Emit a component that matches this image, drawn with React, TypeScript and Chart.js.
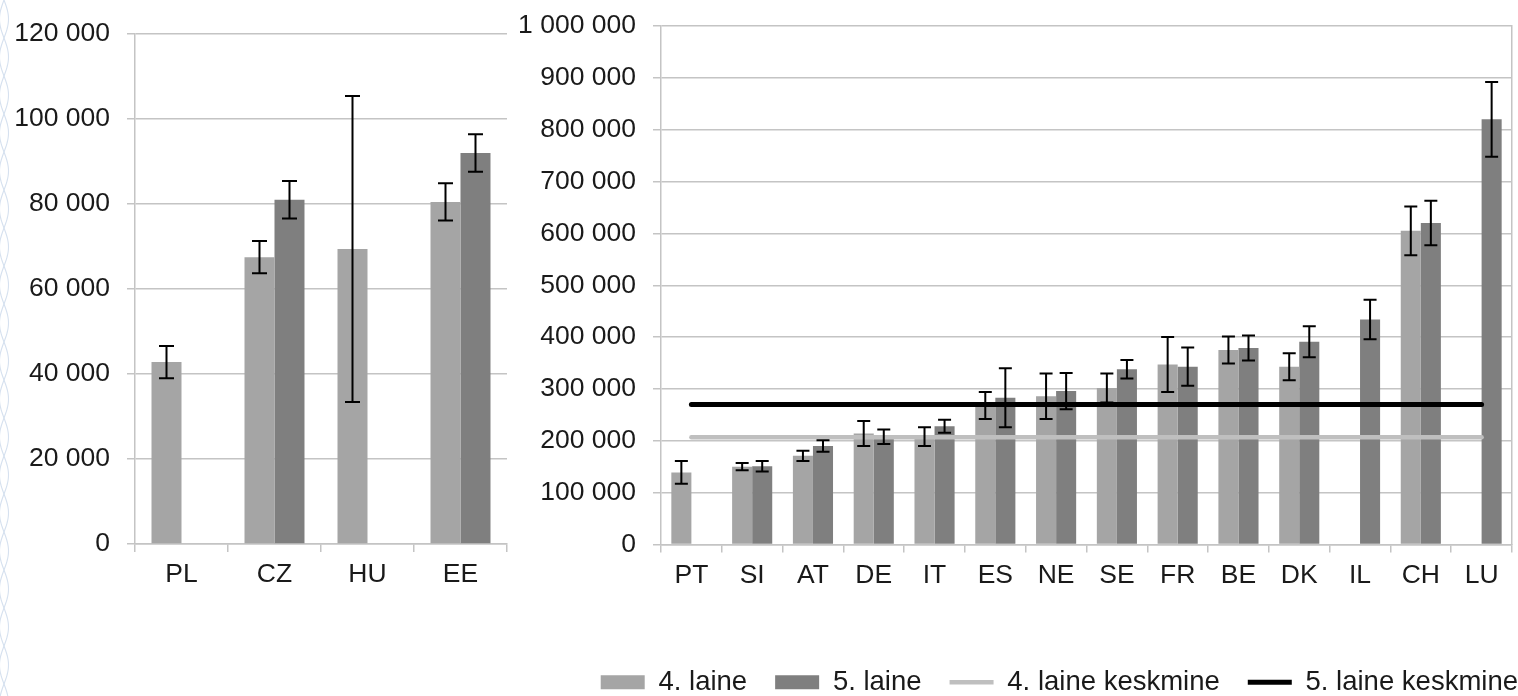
import React, { useEffect, useRef } from 'react';
import { Chart, registerables } from 'chart.js';

Chart.register(...registerables);

// ---------- data ----------
const leftCategories = ['PL', 'CZ', 'HU', 'EE'];
const leftWave4 = [42800, 67500, 69400, 80500];
const leftWave4Err = [3800, 3800, 36000, 4400];
const leftWave5 = [null, 81000, null, 92000];
const leftWave5Err = [null, 4400, null, 4400];

const rightCategories = ['PT', 'SI', 'AT', 'DE', 'IT', 'ES', 'NE', 'SE', 'FR', 'BE', 'DK', 'IL', 'CH', 'LU'];
const rightWave4 = [139000, 150000, 171000, 214000, 208000, 268000, 286000, 302000, 347000, 375000, 343000, null, 605000, null];
const rightWave4Err = [22000, 7000, 10000, 24000, 18000, 26000, 44000, 28000, 53000, 26000, 26000, null, 47000, null];
const rightWave5 = [null, 151000, 190000, 208000, 228000, 283000, 296000, 338000, 343000, 379000, 391000, 434000, 620000, 820000];
const rightWave5Err = [null, 10000, 11000, 14000, 12500, 57000, 35000, 18000, 37000, 24000, 30000, 38000, 43000, 72000];

const mean4 = 207000;
const mean5 = 270000;

const seriesLabels = ['4. laine', '5. laine', '4. laine keskmine', '5. laine keskmine'];

const leftTicks = { min: 0, max: 120000, step: 20000 };
const rightTicks = { min: 0, max: 1000000, step: 100000 };

// ---------- styles ----------
const COLOR4 = '#a5a5a5';
const COLOR5 = '#7f7f7f';
const MEAN4_COLOR = '#bfbfbf';
const MEAN5_COLOR = '#000000';
const GRID = '#c4c4c4';
const TEXT = '#1a1a1a';
const FONT = "'Liberation Sans', Arial, sans-serif";
const TICK_FONT = { family: FONT, size: 26.5 };

const fmt = (v: number) => String(Math.round(v)).replace(/\B(?=(\d{3})+(?!\d))/g, ' ');

function makeErrorPlugin(errs: (number | null)[][], cap: number) {
  return {
    id: 'errorBars',
    afterDatasetsDraw(chart: any) {
      const ctx = chart.ctx;
      const ys = chart.scales.y;
      ctx.save();
      ctx.strokeStyle = '#000000';
      ctx.lineWidth = 2;
      ctx.lineCap = 'butt';
      errs.forEach((arr, di) => {
        const meta = chart.getDatasetMeta(di);
        const data = chart.data.datasets[di].data as (number | null)[];
        arr.forEach((e, i) => {
          const v = data[i];
          if (e == null || v == null) return;
          const el = meta.data[i];
          if (!el) return;
          const x = el.x;
          const top = ys.getPixelForValue(v + e);
          const bot = ys.getPixelForValue(v - e);
          ctx.beginPath();
          ctx.moveTo(x, top);
          ctx.lineTo(x, bot);
          ctx.moveTo(x - cap / 2, top);
          ctx.lineTo(x + cap / 2, top);
          ctx.moveTo(x - cap / 2, bot);
          ctx.lineTo(x + cap / 2, bot);
          ctx.stroke();
        });
      });
      ctx.restore();
    },
  };
}

// faint decorative braid along the left edge of the slide
const braidPlugin = {
  id: 'braid',
  beforeDraw(chart: any) {
    const ctx = chart.ctx;
    const h = chart.height;
    ctx.save();
    ctx.strokeStyle = '#d6e1ef';
    ctx.lineWidth = 1.1;
    for (const sign of [1, -1]) {
      ctx.beginPath();
      for (let y = 0; y <= h; y += 2) {
        const x = 4 + sign * 4.5 * Math.sin((2 * Math.PI * y) / 76);
        if (y === 0) ctx.moveTo(x, y);
        else ctx.lineTo(x, y);
      }
      ctx.stroke();
    }
    ctx.restore();
  },
};

function LeftChart() {
  const ref = useRef<HTMLCanvasElement>(null);
  useEffect(() => {
    const chart = new Chart(ref.current!, {
      type: 'bar',
      data: {
        labels: leftCategories,
        datasets: [
          { label: seriesLabels[0], data: leftWave4, backgroundColor: COLOR4, borderWidth: 0, categoryPercentage: 0.645, barPercentage: 1 },
          { label: seriesLabels[1], data: leftWave5, backgroundColor: COLOR5, borderWidth: 0, categoryPercentage: 0.645, barPercentage: 1 },
        ] as any,
      },
      options: {
        responsive: false,
        animation: false,
        events: [],
        layout: { padding: { left: 0, right: 3, top: 34, bottom: 0 } },
        plugins: { legend: { display: false }, tooltip: { enabled: false } },
        scales: {
          x: {
            grid: { display: true, drawOnChartArea: false, drawTicks: true, tickLength: 8, color: GRID, lineWidth: 1.5 },
            border: { display: true, color: GRID, width: 1.5 },
            ticks: { color: TEXT, font: TICK_FONT, padding: 7 },
            afterFit: (s: any) => { s.height = 152; },
          },
          y: {
            min: leftTicks.min,
            max: leftTicks.max,
            grid: { color: GRID, lineWidth: 1.5, tickLength: 8 },
            border: { display: true, color: GRID, width: 1.5 },
            ticks: { stepSize: leftTicks.step, color: TEXT, font: TICK_FONT, padding: 17, callback: (v: any) => fmt(Number(v)) },
            afterFit: (s: any) => { s.width = 135; s.paddingTop = 10; },
          },
        },
      } as any,
      plugins: [braidPlugin, makeErrorPlugin([leftWave4Err, leftWave5Err], 15)],
    });
    return () => chart.destroy();
  }, []);
  return <canvas ref={ref} width={510} height={696} style={{ position: 'absolute', left: 0, top: 0 }} />;
}

function RightChart() {
  const ref = useRef<HTMLCanvasElement>(null);
  useEffect(() => {
    const chart = new Chart(ref.current!, {
      type: 'bar',
      data: {
        labels: rightCategories,
        datasets: [
          { label: seriesLabels[0], data: rightWave4, backgroundColor: COLOR4, borderWidth: 0, categoryPercentage: 0.66, barPercentage: 1, pointStyle: 'rect', order: 2 },
          { label: seriesLabels[1], data: rightWave5, backgroundColor: COLOR5, borderWidth: 0, categoryPercentage: 0.66, barPercentage: 1, pointStyle: 'rect', order: 2 },
          {
            type: 'line', label: seriesLabels[2],
            data: [{ x: rightCategories[0], y: mean4 }, { x: rightCategories[rightCategories.length - 1], y: mean4 }],
            borderColor: MEAN4_COLOR, backgroundColor: MEAN4_COLOR, borderWidth: 4.5, borderCapStyle: 'round',
            pointRadius: 0, pointStyle: 'line', order: 1,
          },
          {
            type: 'line', label: seriesLabels[3],
            data: [{ x: rightCategories[0], y: mean5 }, { x: rightCategories[rightCategories.length - 1], y: mean5 }],
            borderColor: MEAN5_COLOR, backgroundColor: MEAN5_COLOR, borderWidth: 5, borderCapStyle: 'round',
            pointRadius: 0, pointStyle: 'line', order: 0,
          },
        ] as any,
      },
      options: {
        responsive: false,
        animation: false,
        events: [],
        layout: { padding: { left: 0, right: 0, top: 26, bottom: 0 } },
        plugins: {
          tooltip: { enabled: false },
          legend: {
            display: true,
            position: 'bottom',
            align: 'end',
            labels: {
              usePointStyle: true,
              pointStyleWidth: 44,
              boxHeight: 14,
              padding: 28,
              color: TEXT,
              font: { family: FONT, size: 27.5 },
              sort: (a: any, b: any) => a.datasetIndex - b.datasetIndex,
            },
          },
        },
        scales: {
          x: {
            grid: { display: true, drawOnChartArea: false, drawTicks: true, tickLength: 8, color: GRID, lineWidth: 1.5 },
            border: { display: true, color: GRID, width: 1.5 },
            ticks: { color: TEXT, font: TICK_FONT, padding: 7 },
            afterFit: (s: any) => { s.height = 96; },
          },
          y: {
            min: rightTicks.min,
            max: rightTicks.max,
            grid: { color: GRID, lineWidth: 1.5, tickLength: 8 },
            border: { display: true, color: GRID, width: 1.5 },
            ticks: { stepSize: rightTicks.step, color: TEXT, font: TICK_FONT, padding: 17, callback: (v: any) => fmt(Number(v)) },
            afterFit: (s: any) => { s.width = 151; s.paddingTop = 10; },
          },
          yRight: {
            position: 'right',
            min: 0,
            max: 1,
            grid: { display: false, drawTicks: false },
            border: { display: true, color: GRID, width: 1.5 },
            ticks: { display: false },
            afterFit: (s: any) => { s.width = 34; },
          },
        },
      } as any,
      plugins: [makeErrorPlugin([rightWave4Err, rightWave5Err], 13)],
    });
    return () => chart.destroy();
  }, []);
  return <canvas ref={ref} width={1036} height={706} style={{ position: 'absolute', left: 510, top: 0 }} />;
}

export default function App() {
  return (
    <div style={{ position: 'fixed', left: 0, top: 0, width: 1518, height: 696, overflow: 'hidden', background: '#ffffff' }}>
      <LeftChart />
      <RightChart />
    </div>
  );
}
